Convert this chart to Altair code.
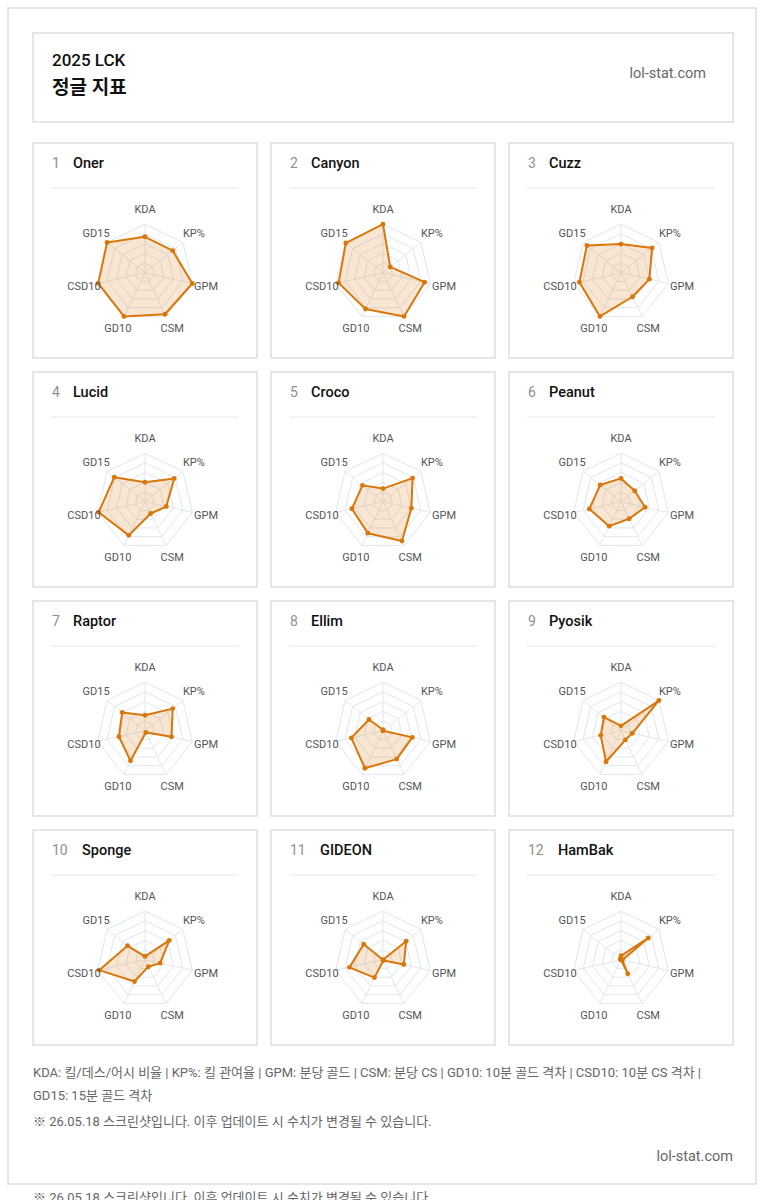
import altair as alt
import pandas as pd
import numpy as np

# ---------------- data ----------------
AXES = ["KDA", "KP%", "GPM", "CSM", "GD10", "CSD10", "GD15"]
RANKS = [1, 2, 3, 4, 5, 6, 7, 8, 9, 10, 11, 12]
PLAYERS = ["Oner", "Canyon", "Cuzz", "Lucid", "Croco", "Peanut",
           "Raptor", "Ellim", "Pyosik", "Sponge", "GIDEON", "HamBak"]

ONER = [0.74, 0.73, 1.00, 0.95, 1.00, 0.99, 1.00]
CANYON = [1.00, 0.19, 0.88, 1.00, 0.83, 0.94, 0.98]
CUZZ = [0.59, 0.82, 0.60, 0.55, 1.00, 0.88, 0.90]
LUCID = [0.40, 0.77, 0.45, 0.27, 0.77, 0.98, 0.81]
CROCO = [0.27, 0.78, 0.60, 0.90, 0.72, 0.66, 0.54]
PEANUT = [0.48, 0.36, 0.51, 0.39, 0.56, 0.67, 0.55]
RAPTOR = [0.32, 0.73, 0.56, 0.04, 0.69, 0.55, 0.60]
ELLIM = [0.02, 0.00, 0.62, 0.65, 0.86, 0.67, 0.37]
PYOSIK = [0.10, 1.00, 0.24, 0.21, 0.71, 0.43, 0.45]
SPONGE = [0.07, 0.64, 0.32, 0.16, 0.50, 0.97, 0.46]
GIDEON = [0.00, 0.61, 0.44, 0.02, 0.41, 0.71, 0.51]
HAMBAK = [0.08, 0.72, 0.03, 0.32, 0.00, 0.00, 0.02]
VALUES = [ONER, CANYON, CUZZ, LUCID, CROCO, PEANUT,
          RAPTOR, ELLIM, PYOSIK, SPONGE, GIDEON, HAMBAK]

GRID_LEVELS = [0.2, 0.4, 0.6, 0.8, 1.0]

HEADER_SUB = "2025 LCK"
HEADER_TITLE = "정글 지표"
SITE = "lol-stat.com"
FOOT_1 = "KDA: 킬/데스/어시 비율 | KP%: 킬 관여율 | GPM: 분당 골드 | CSM: 분당 CS | GD10: 10분 골드 격차 | CSD10: 10분 CS 격차 |"
FOOT_2 = "GD15: 15분 골드 격차"
FOOT_3 = "※ 26.05.18 스크린샷입니다. 이후 업데이트 시 수치가 변경될 수 있습니다."

# ---------------- layout / style ----------------
W, H = 764, 1200
FONT = "Roboto, 'Noto Sans CJK KR', sans-serif"
ORANGE = "#d9770b"
GRID = "#e1e7ee"
BORDER = "#dedede"
R = 48.5            # px radius of the 1.0 ring
LABEL_R = 1.29      # label distance in ring units
LEFT, TOP = 33, 143
PW, PH = 224, 215
GX, GY = 14, 14
CY_OFF = 129.7

N = len(AXES)
ANG = [2 * np.pi * k / N for k in range(N)]

px_x = alt.Scale(domain=[0, W], nice=False, zero=False)
px_y = alt.Scale(domain=[0, H], reverse=True, nice=False, zero=False)


def PX(f):
    return alt.X(f, type="quantitative", scale=px_x, axis=None)


def PY(f):
    return alt.Y(f, type="quantitative", scale=px_y, axis=None)


# ---------------- page layer ----------------
frame_df = pd.DataFrame([{"x": 8, "x2": 756, "y": 8, "y2": 1184}])
frame = alt.Chart(frame_df).mark_rect(fill="white", stroke=BORDER, strokeWidth=1.5).encode(
    x=PX("x"), x2="x2", y=PY("y"), y2="y2")

hbox_df = pd.DataFrame([{"x": 33, "x2": 733, "y": 33, "y2": 122}])
hbox = alt.Chart(hbox_df).mark_rect(fill="white", stroke=BORDER, strokeWidth=1.5).encode(
    x=PX("x"), x2="x2", y=PY("y"), y2="y2")

boxes, divs, titles = [], [], []
centers = []
for i, (rk, name) in enumerate(zip(RANKS, PLAYERS)):
    r, c = divmod(i, 3)
    left = LEFT + c * (PW + GX)
    top = TOP + r * (PH + GY)
    boxes.append({"x": left, "x2": left + PW, "y": top, "y2": top + PH})
    divs.append({"x": left + 18, "x2": left + PW - 18, "y": top + 45})
    titles.append({"nx": left + 19, "mx": left + (49 if rk >= 10 else 40),
                   "y": top + 21, "num": str(rk), "name": name})
    centers.append((left + PW / 2, top + CY_OFF))

boxes_df = pd.DataFrame(boxes)
divs_df = pd.DataFrame(divs)
titles_df = pd.DataFrame(titles)

pboxes = alt.Chart(boxes_df).mark_rect(fill="white", stroke=BORDER, strokeWidth=1.5).encode(
    x=PX("x"), x2="x2", y=PY("y"), y2="y2")
pdivs = alt.Chart(divs_df).mark_rule(color="#e6e6e6", strokeWidth=1).encode(
    x=PX("x"), x2="x2", y=PY("y"))
pnums = alt.Chart(titles_df).mark_text(align="left", baseline="middle", fontSize=14,
                                       color="#8f8f8f").encode(x=PX("nx"), y=PY("y"), text="num:N")
pnames = alt.Chart(titles_df).mark_text(align="left", baseline="middle", fontSize=14.5,
                                        fontWeight=500, color="#111111").encode(
    x=PX("mx"), y=PY("y"), text="name:N")

htext_df = pd.DataFrame([
    {"x": 52, "y": 61, "t": HEADER_SUB},
    {"x": 52, "y": 88, "t": HEADER_TITLE},
])
h1 = alt.Chart(htext_df.iloc[[0]]).mark_text(align="left", baseline="middle", fontSize=17,
                                            fontWeight=500, color="#111111").encode(
    x=PX("x"), y=PY("y"), text="t:N")
h2 = alt.Chart(htext_df.iloc[[1]]).mark_text(align="left", baseline="middle", fontSize=19,
                                            fontWeight="bold", color="#111111").encode(
    x=PX("x"), y=PY("y"), text="t:N")
site_df = pd.DataFrame([{"x": 706, "y": 74, "t": SITE}, {"x": 733, "y": 1157, "t": SITE}])
hsite = alt.Chart(site_df).mark_text(align="right", baseline="middle", fontSize=14.5,
                                     color="#666666").encode(x=PX("x"), y=PY("y"), text="t:N")

foot_df = pd.DataFrame([
    {"x": 33, "y": 1073, "t": FOOT_1},
    {"x": 33, "y": 1096, "t": FOOT_2},
    {"x": 33, "y": 1122, "t": FOOT_3},
    {"x": 33, "y": 1198, "t": FOOT_3},
])
foot = alt.Chart(foot_df).mark_text(align="left", baseline="middle", fontSize=13,
                                    color="#666666").encode(x=PX("x"), y=PY("y"), text="t:N")

page = alt.layer(frame, hbox, pboxes, pdivs, pnums, pnames, h1, h2, hsite, foot)

# ---------------- radar panels ----------------
grid_rows = []
for lv in GRID_LEVELS:
    for k in range(N + 1):
        a = ANG[k % N]
        grid_rows.append({"level": lv, "k": k, "x": lv * np.sin(a), "y": lv * np.cos(a)})
grid_df = pd.DataFrame(grid_rows)
spoke_df = pd.DataFrame({"x0": [0.0] * N, "y0": [0.0] * N,
                         "x1": [np.sin(a) for a in ANG], "y1": [np.cos(a) for a in ANG]})
label_df = pd.DataFrame({"axis": AXES,
                         "x": [LABEL_R * np.sin(a) for a in ANG],
                         "y": [LABEL_R * np.cos(a) for a in ANG]})

panels = []
for i, vals in enumerate(VALUES):
    cx, cy = centers[i]
    xs = alt.Scale(domain=[-cx / R, (W - cx) / R], nice=False, zero=False)
    ys = alt.Scale(domain=[(cy - H) / R, cy / R], nice=False, zero=False)
    X = lambda f: alt.X(f, type="quantitative", scale=xs, axis=None)
    Y = lambda f: alt.Y(f, type="quantitative", scale=ys, axis=None)

    pts = pd.DataFrame({"axis": AXES + [AXES[0]],
                        "k": list(range(N + 1)),
                        "v": vals + [vals[0]]})
    base_pts = alt.Chart(pts).transform_calculate(
        ang="2 * PI * datum.k / 7",
    ).transform_calculate(
        px="datum.v * sin(datum.ang)", py="datum.v * cos(datum.ang)")

    grid = alt.Chart(grid_df).mark_line(color=GRID, strokeWidth=1).encode(
        x=X("x"), y=Y("y"), detail="level:N", order="k:Q")
    spokes = alt.Chart(spoke_df).mark_rule(color=GRID, strokeWidth=1).encode(
        x=X("x0"), y=Y("y0"), x2="x1", y2="y1")
    poly = base_pts.mark_line(stroke=ORANGE, strokeWidth=2, fill=ORANGE, fillOpacity=0.18,
                              strokeJoin="round").encode(x=X("px"), y=Y("py"), order="k:Q")
    dots = base_pts.transform_filter("datum.k < 7").mark_circle(
        size=24, color=ORANGE, opacity=1).encode(x=X("px"), y=Y("py"))
    labels = alt.Chart(label_df).mark_text(fontSize=11, color="#555555", align="center",
                                           baseline="middle").encode(
        x=X("x"), y=Y("y"), text="axis:N")
    panels.append(alt.layer(grid, spokes, poly, dots, labels))

chart = alt.layer(page, *panels).resolve_scale(
    x="independent", y="independent"
).properties(
    width=W, height=H, padding=0,
    autosize=alt.AutoSizeParams(type="none"), background="white"
).configure(font=FONT).configure_view(stroke=None)

chart.save("out.html", embed_options={"renderer": "svg", "actions": False})
